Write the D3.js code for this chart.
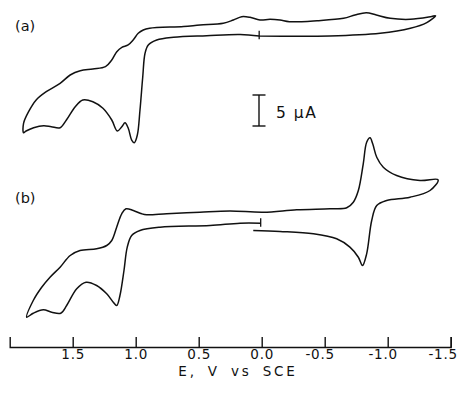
<!DOCTYPE html>
<html>
<head>
<meta charset="utf-8">
<script src="https://cdn.jsdelivr.net/npm/d3@7"></script>
<style>
  html, body { margin: 0; padding: 0; background: #fff; }
  svg { display: block; }
  text { font-family: "DejaVu Sans", sans-serif; fill: #111; }
</style>
</head>
<body>
<svg id="chart" width="465" height="396"></svg>
<script>
// ---- Data (potential E in V vs SCE, current I in µA, relative to each trace's resting level) ----
// Trace (a): closed scan starting at the start marker
const traceA_E = [0.02, -0.54, -0.94, -1.18, -1.31, -1.38,
  -1.34, -1.18, -1.02, -0.91, -0.83, -0.74, -0.65, -0.44, -0.22, -0.145, -0.066, 0.014, 0.093, 0.159, 0.225, 0.305, 0.49, 0.62,
  0.89, 0.94, 0.98, 1.02, 1.06, 1.11, 1.15, 1.19, 1.24, 1.34, 1.44, 1.52, 1.60, 1.71, 1.79, 1.85, 1.89, 1.89,
  1.87, 1.81, 1.73, 1.67, 1.60, 1.55, 1.48, 1.42, 1.34, 1.26, 1.19, 1.146, 1.11, 1.085, 1.059, 1.032, 1.011,
  0.987, 0.966, 0.944, 0.926, 0.90, 0.833, 0.70, 0.437, 0.17, 0.02];
const traceA_I = [-0.16, -0.16, 0.27, 1.08, 2.0, 3.11,
  2.95, 2.53, 2.69, 3.23, 3.6, 3.23, 2.69, 2.31, 2.15, 2.42, 2.53, 2.42, 2.85, 2.95, 2.42, 1.89, 1.61, 1.37,
  1.08, 0.81, 0.27, -0.81, -1.61, -1.98, -2.69, -4.03, -5.11, -5.48, -5.76, -6.45, -7.79, -9.15, -10.48, -12.37, -14.24, -15.76,
  -15.48, -14.95, -14.63, -14.79, -14.95, -13.71, -11.56, -10.48, -10.76, -11.82, -13.71, -15.48, -14.79, -14.15, -15.05, -16.94, -17.37,
  -16.13, -12.1, -6.73, -2.95, -1.61, -0.81, -0.37, -0.11, 0.08, -0.16];

// Trace (b): scan from just past the start marker, to -1.4 V, back to +1.87 V, and back to the marker
const traceB_E = [0.067, -0.145, -0.41, -0.595, -0.70, -0.767, -0.80, -0.833, -0.873, -0.913, -0.992, -1.177, -1.336, -1.40,
  -1.256, -1.071, -0.965, -0.913, -0.881, -0.86, -0.833, -0.806, -0.767, -0.727, -0.675, -0.542, -0.278, -0.013, 0.252, 0.49, 0.754, 0.913,
  0.952, 1.019, 1.077, 1.111, 1.151, 1.19, 1.23, 1.31, 1.442, 1.52, 1.60, 1.68, 1.746, 1.813, 1.865,
  1.813, 1.733, 1.667, 1.595, 1.548, 1.468, 1.394, 1.31, 1.23, 1.178, 1.151, 1.125, 1.093, 1.067, 1.032, 0.966, 0.807, 0.41, 0.172, 0.008];
const traceB_I = [-1.29, -1.45, -1.82, -2.63, -3.98, -5.6, -6.94, -5.05, 0.32, 2.74, 3.55, 4.08, 5.16, 6.89,
  6.77, 7.58, 8.92, 10.53, 12.69, 13.66, 12.95, 9.47, 5.16, 3.27, 2.37, 2.21, 2.05, 1.66, 1.85, 1.66, 1.40, 1.24,
  1.40, 1.94, 2.21, 1.40, -0.76, -2.90, -3.71, -4.24, -4.52, -5.32, -7.21, -8.82, -10.44, -12.58, -15.27,
  -14.63, -14.08, -14.47, -14.63, -13.39, -10.69, -9.63, -10.16, -11.5, -12.85, -13.39, -11.77, -7.74, -3.98, -2.10, -1.29, -0.76, -0.48, -0.11, -0.11];

const startMarkerE = [0.02, 0.008];        // start-of-scan marks for (a), (b)
const traceLabels = ["(a)", "(b)"];
const tickValues = [1.5, 1.0, 0.5, 0.0, -0.5, -1.0, -1.5];
const axisDomain = [2.0, -1.5];
const scaleBarUA = 5;
const xLabel = "E, V vs SCE";

// ---- Drawing ----
const svg = d3.select("#chart");
const x = d3.scaleLinear().domain(axisDomain).range([9.7, 450.7]);
const y = d3.scaleLinear().domain([0, scaleBarUA]).range([0, -31]); // current (µA) -> offset px

const line = d3.line()
  .x(d => x(d[0]))
  .y(d => y(d[1]))
  .curve(d3.curveCatmullRom.alpha(0.5));

const traces = [
  { E: traceA_E, I: traceA_I, base: 35, label: traceLabels[0], labelY: 31, marker: startMarkerE[0] },
  { E: traceB_E, I: traceB_I, base: 222.5, label: traceLabels[1], labelY: 203, marker: startMarkerE[1] }
];

traces.forEach(t => {
  const g = svg.append("g").attr("transform", `translate(0,${t.base})`);
  const pts = t.E.map((e, i) => [e, t.I[i]]);
  g.append("path")
    .attr("d", line(pts))
    .attr("fill", "none")
    .attr("stroke", "#111")
    .attr("stroke-width", 1.5)
    .attr("stroke-linejoin", "round");
  // start marker
  g.append("line")
    .attr("x1", x(t.marker)).attr("x2", x(t.marker))
    .attr("y1", y(0.7)).attr("y2", y(-0.7))
    .attr("stroke", "#111").attr("stroke-width", 1.3);
  svg.append("text")
    .attr("x", 15).attr("y", t.labelY)
    .attr("font-size", 14.5)
    .text(t.label);
});

// scale bar (5 µA)
const sb = svg.append("g").attr("transform", "translate(259,126)");
sb.append("line").attr("x1", 0).attr("x2", 0).attr("y1", y(0)).attr("y2", y(scaleBarUA))
  .attr("stroke", "#111").attr("stroke-width", 1.4);
[0, scaleBarUA].forEach(v => {
  sb.append("line").attr("x1", -6.5).attr("x2", 6.5).attr("y1", y(v)).attr("y2", y(v))
    .attr("stroke", "#111").attr("stroke-width", 1.4);
});
svg.append("text").attr("x", 276).attr("y", 117.5)
  .attr("font-size", 15.5).attr("letter-spacing", 1.5)
  .text(scaleBarUA + " µA");

// x axis
const axis = d3.axisBottom(x)
  .tickValues(tickValues)
  .tickFormat(d => d.toFixed(1))
  .tickSizeInner(-10)
  .tickSizeOuter(-10)
  .tickPadding(2)
  ;
const ax = svg.append("g").attr("transform", "translate(0,347)").call(axis);
ax.attr("font-family", null).attr("font-size", null);
ax.selectAll("path, line").attr("stroke", "#111").attr("stroke-width", 1.4);
ax.selectAll("text")
  .attr("font-size", 13.5)
  .attr("letter-spacing", 0.8)
  .attr("fill", "#111")
  .attr("dx", d => d < -1.2 ? -8 : (d < 0 ? -5 : 0));

svg.append("text")
  .attr("x", 238).attr("y", 376)
  .attr("text-anchor", "middle")
  .attr("font-size", 13.5)
  .attr("letter-spacing", 2.8)
  .attr("word-spacing", 4)
  .text(xLabel);
</script>
</body>
</html>
